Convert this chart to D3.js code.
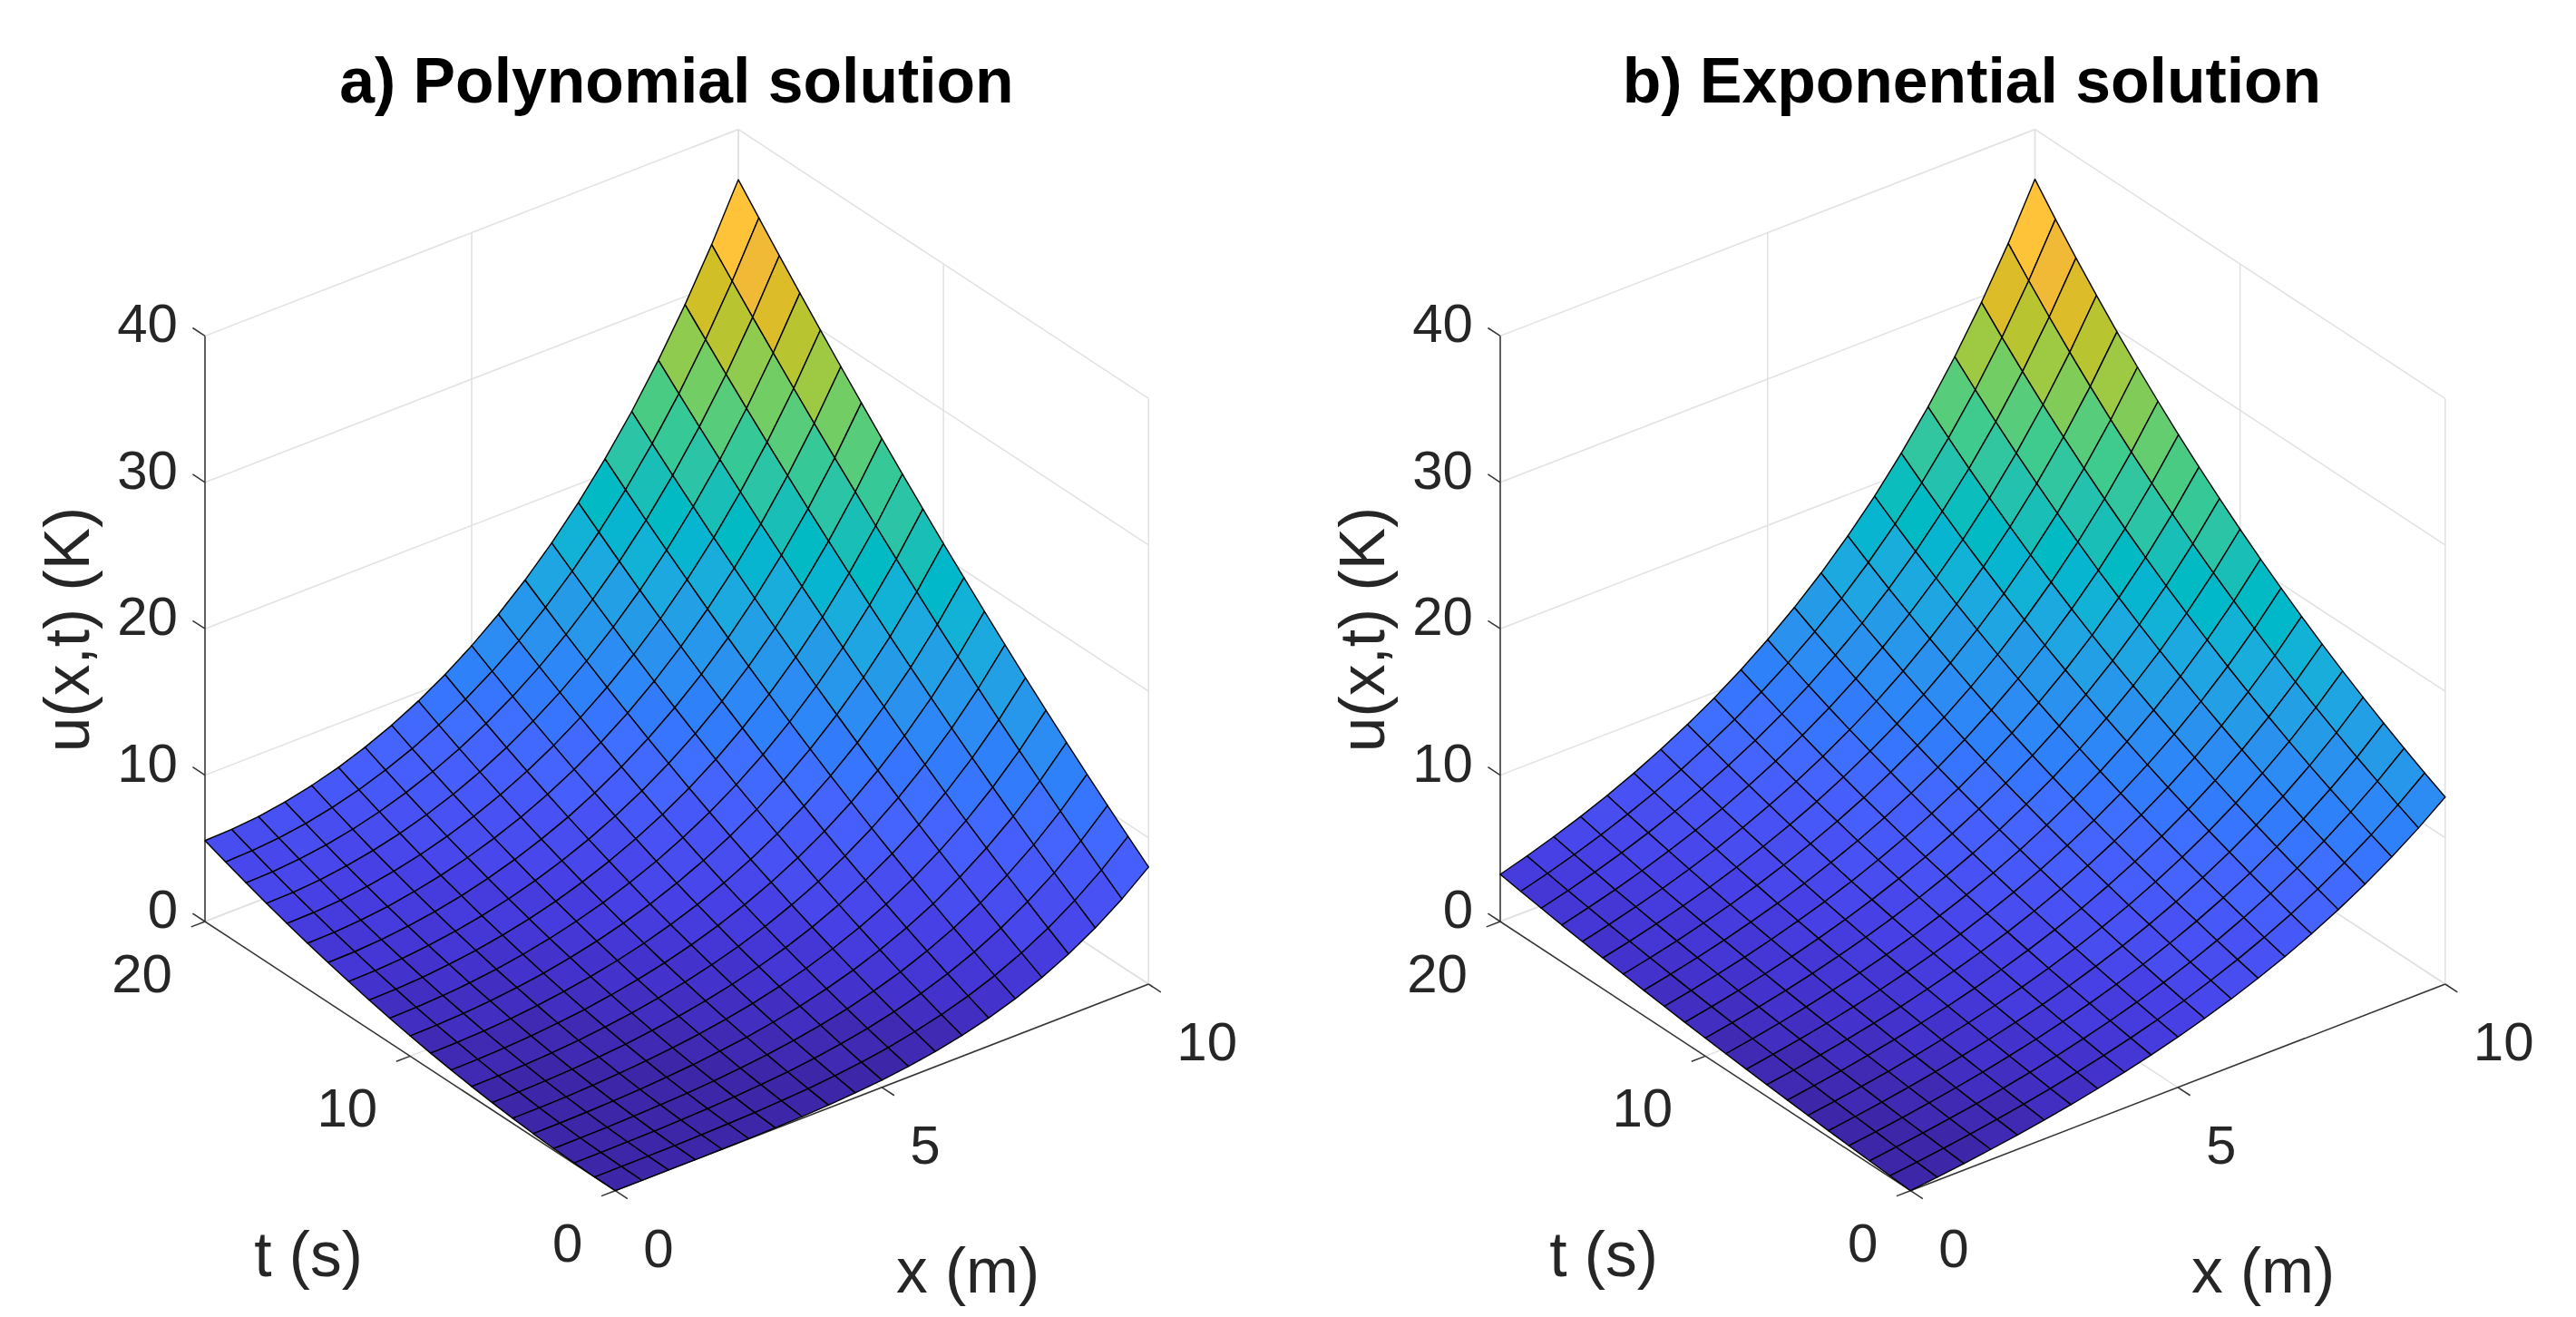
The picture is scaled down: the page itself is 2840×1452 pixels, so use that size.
<!DOCTYPE html>
<html>
<head>
<meta charset="utf-8">
<script src="https://cdn.jsdelivr.net/npm/d3@7"></script>
<style>
  body { margin: 0; background: #fff; }
  text { font-family: "Liberation Sans", sans-serif; }
</style>
</head>
<body>
<div id="chart"></div>
<script>
// grid positions of the surfaces
const xValues = [0, 0.5, 1, 1.5, 2, 2.5, 3, 3.5, 4, 4.5, 5, 5.5, 6, 6.5, 7, 7.5, 8, 8.5, 9, 9.5, 10];
const tValues = [0, 1, 2, 3, 4, 5, 6, 7, 8, 9, 10, 11, 12, 13, 14, 15, 16, 17, 18, 19, 20];

// tick labels
const xTicks = [0, 5, 10];
const tTicks = [0, 10, 20];
const uTicks = [0, 10, 20, 30, 40];

// u(x,t), one row per t, one column per x
const polynomialU = [
  [0, 0, 0, 0, 0.01, 0.03, 0.06, 0.12, 0.20, 0.33, 0.50, 0.73, 1.04, 1.43, 1.92, 2.53, 3.28, 4.18, 5.25, 6.52, 8.00],
  [0.01, 0.02, 0.03, 0.04, 0.07, 0.12, 0.18, 0.28, 0.40, 0.58, 0.80, 1.09, 1.47, 1.93, 2.50, 3.19, 4.03, 5.02, 6.20, 7.57, 9.17],
  [0.06, 0.06, 0.08, 0.11, 0.16, 0.23, 0.33, 0.46, 0.63, 0.85, 1.13, 1.48, 1.92, 2.46, 3.11, 3.88, 4.81, 5.90, 7.17, 8.65, 10.36],
  [0.12, 0.13, 0.16, 0.21, 0.28, 0.37, 0.50, 0.67, 0.88, 1.15, 1.49, 1.90, 2.41, 3.01, 3.74, 4.60, 5.61, 6.80, 8.17, 9.76, 11.58],
  [0.22, 0.23, 0.27, 0.33, 0.42, 0.54, 0.70, 0.91, 1.16, 1.48, 1.87, 2.35, 2.92, 3.60, 4.40, 5.34, 6.45, 7.73, 9.20, 10.90, 12.83],
  [0.35, 0.36, 0.40, 0.48, 0.59, 0.74, 0.93, 1.17, 1.47, 1.84, 2.29, 2.82, 3.46, 4.21, 5.09, 6.12, 7.31, 8.68, 10.26, 12.06, 14.11],
  [0.50, 0.52, 0.57, 0.66, 0.79, 0.96, 1.19, 1.46, 1.81, 2.23, 2.73, 3.32, 4.02, 4.85, 5.81, 6.92, 8.20, 9.67, 11.35, 13.25, 15.41],
  [0.68, 0.70, 0.76, 0.86, 1.01, 1.21, 1.47, 1.78, 2.17, 2.64, 3.19, 3.85, 4.62, 5.51, 6.55, 7.74, 9.12, 10.68, 12.46, 14.47, 16.74],
  [0.89, 0.91, 0.98, 1.10, 1.27, 1.49, 1.78, 2.13, 2.56, 3.08, 3.69, 4.41, 5.24, 6.21, 7.32, 8.60, 10.06, 11.72, 13.60, 15.72, 18.10],
  [1.12, 1.15, 1.22, 1.36, 1.55, 1.80, 2.12, 2.51, 2.98, 3.55, 4.21, 4.99, 5.89, 6.93, 8.12, 9.48, 11.03, 12.79, 14.77, 16.99, 19.49],
  [1.38, 1.41, 1.50, 1.65, 1.86, 2.13, 2.49, 2.91, 3.43, 4.04, 4.76, 5.60, 6.57, 7.68, 8.95, 10.39, 12.03, 13.88, 15.96, 18.30, 20.90],
  [1.67, 1.70, 1.80, 1.96, 2.19, 2.50, 2.88, 3.35, 3.91, 4.57, 5.34, 6.24, 7.27, 8.45, 9.80, 11.33, 13.06, 15.00, 17.19, 19.63, 22.35],
  [1.99, 2.03, 2.13, 2.31, 2.56, 2.89, 3.30, 3.80, 4.41, 5.12, 5.95, 6.91, 8.00, 9.26, 10.69, 12.30, 14.12, 16.15, 18.44, 20.98, 23.82],
  [2.34, 2.37, 2.49, 2.68, 2.95, 3.30, 3.75, 4.29, 4.94, 5.70, 6.58, 7.60, 8.77, 10.09, 11.60, 13.29, 15.20, 17.33, 19.72, 22.37, 25.31],
  [2.71, 2.75, 2.87, 3.08, 3.37, 3.75, 4.23, 4.81, 5.50, 6.30, 7.24, 8.32, 9.55, 10.95, 12.53, 14.31, 16.31, 18.54, 21.02, 23.78, 26.84],
  [3.11, 3.15, 3.28, 3.50, 3.82, 4.22, 4.73, 5.35, 6.08, 6.94, 7.93, 9.07, 10.37, 11.84, 13.50, 15.36, 17.45, 19.77, 22.36, 25.22, 28.39],
  [3.54, 3.59, 3.72, 3.96, 4.29, 4.72, 5.26, 5.92, 6.69, 7.60, 8.65, 9.85, 11.21, 12.75, 14.49, 16.44, 18.61, 21.03, 23.72, 26.69, 29.97],
  [4.00, 4.04, 4.19, 4.44, 4.79, 5.25, 5.82, 6.51, 7.33, 8.29, 9.39, 10.65, 12.08, 13.70, 15.51, 17.54, 19.81, 22.32, 25.11, 28.19, 31.58],
  [4.48, 4.53, 4.69, 4.95, 5.32, 5.81, 6.41, 7.14, 8.00, 9.01, 10.16, 11.48, 12.98, 14.67, 16.56, 18.67, 21.03, 23.64, 26.52, 29.71, 33.22],
  [4.99, 5.05, 5.21, 5.49, 5.88, 6.39, 7.03, 7.79, 8.70, 9.75, 10.96, 12.34, 13.91, 15.67, 17.64, 19.83, 22.28, 24.98, 27.97, 31.26, 34.88],
  [5.53, 5.59, 5.76, 6.05, 6.47, 7.00, 7.67, 8.47, 9.42, 10.52, 11.79, 13.23, 14.86, 16.69, 18.74, 21.02, 23.55, 26.35, 29.44, 32.84, 36.57]
];

const exponentialU = [
  [0, 0.21, 0.44, 0.70, 0.98, 1.30, 1.64, 2.03, 2.45, 2.92, 3.44, 4.01, 4.64, 5.34, 6.11, 6.96, 7.91, 8.95, 10.10, 11.37, 12.78],
  [0.10, 0.32, 0.56, 0.83, 1.13, 1.46, 1.82, 2.23, 2.67, 3.16, 3.70, 4.30, 4.97, 5.70, 6.51, 7.40, 8.39, 9.49, 10.69, 12.03, 13.50],
  [0.20, 0.43, 0.69, 0.97, 1.28, 1.63, 2.01, 2.43, 2.90, 3.41, 3.98, 4.61, 5.31, 6.08, 6.93, 7.87, 8.90, 10.05, 11.32, 12.72, 14.27],
  [0.31, 0.55, 0.82, 1.12, 1.45, 1.81, 2.21, 2.65, 3.14, 3.68, 4.28, 4.94, 5.67, 6.48, 7.37, 8.35, 9.44, 10.64, 11.97, 13.44, 15.07],
  [0.42, 0.68, 0.96, 1.27, 1.62, 2.00, 2.42, 2.88, 3.39, 3.96, 4.59, 5.28, 6.05, 6.89, 7.83, 8.86, 10.00, 11.27, 12.66, 14.20, 15.91],
  [0.54, 0.81, 1.11, 1.43, 1.79, 2.19, 2.63, 3.12, 3.66, 4.25, 4.91, 5.64, 6.44, 7.33, 8.31, 9.39, 10.59, 11.92, 13.38, 15.00, 16.79],
  [0.67, 0.95, 1.26, 1.60, 1.98, 2.40, 2.86, 3.37, 3.94, 4.56, 5.25, 6.01, 6.86, 7.79, 8.82, 9.95, 11.21, 12.60, 14.14, 15.83, 17.71],
  [0.80, 1.09, 1.42, 1.78, 2.18, 2.61, 3.10, 3.64, 4.23, 4.88, 5.61, 6.41, 7.29, 8.27, 9.35, 10.54, 11.86, 13.32, 14.93, 16.71, 18.68],
  [0.94, 1.25, 1.59, 1.96, 2.38, 2.84, 3.35, 3.91, 4.53, 5.22, 5.98, 6.82, 7.75, 8.77, 9.91, 11.16, 12.54, 14.07, 15.76, 17.63, 19.70],
  [1.08, 1.40, 1.76, 2.16, 2.60, 3.08, 3.61, 4.20, 4.86, 5.58, 6.37, 7.25, 8.23, 9.30, 10.49, 11.81, 13.26, 14.86, 16.64, 18.60, 20.76],
  [1.23, 1.57, 1.95, 2.36, 2.82, 3.33, 3.89, 4.51, 5.19, 5.95, 6.79, 7.71, 8.73, 9.86, 11.11, 12.49, 14.01, 15.69, 17.55, 19.61, 21.88],
  [1.39, 1.75, 2.14, 2.58, 3.06, 3.59, 4.18, 4.83, 5.55, 6.34, 7.22, 8.19, 9.26, 10.44, 11.75, 13.20, 14.80, 16.56, 18.51, 20.67, 23.06],
  [1.56, 1.93, 2.35, 2.80, 3.31, 3.87, 4.48, 5.16, 5.92, 6.75, 7.67, 8.69, 9.81, 11.05, 12.43, 13.95, 15.62, 17.48, 19.52, 21.79, 24.29],
  [1.73, 2.13, 2.56, 3.04, 3.57, 4.15, 4.80, 5.52, 6.31, 7.18, 8.15, 9.21, 10.39, 11.70, 13.14, 14.73, 16.49, 18.43, 20.58, 22.96, 25.58],
  [1.92, 2.33, 2.78, 3.29, 3.84, 4.46, 5.14, 5.89, 6.72, 7.63, 8.65, 9.77, 11.00, 12.37, 13.88, 15.55, 17.40, 19.44, 21.69, 24.18, 26.94],
  [2.11, 2.54, 3.02, 3.55, 4.13, 4.77, 5.49, 6.27, 7.14, 8.11, 9.17, 10.34, 11.64, 13.08, 14.66, 16.41, 18.35, 20.49, 22.86, 25.47, 28.36],
  [2.31, 2.76, 3.27, 3.82, 4.43, 5.11, 5.86, 6.68, 7.59, 8.60, 9.72, 10.95, 12.31, 13.82, 15.48, 17.32, 19.35, 21.60, 24.08, 26.82, 29.85],
  [2.52, 3.00, 3.52, 4.11, 4.75, 5.46, 6.24, 7.11, 8.07, 9.12, 10.29, 11.59, 13.02, 14.60, 16.34, 18.27, 20.40, 22.76, 25.36, 28.24, 31.42],
  [2.75, 3.24, 3.80, 4.41, 5.08, 5.82, 6.65, 7.56, 8.56, 9.67, 10.90, 12.26, 13.75, 15.41, 17.24, 19.27, 21.50, 23.98, 26.71, 29.73, 33.06],
  [2.98, 3.50, 4.08, 4.72, 5.43, 6.21, 7.07, 8.03, 9.08, 10.25, 11.53, 12.96, 14.53, 16.27, 18.19, 20.31, 22.66, 25.25, 28.12, 31.29, 34.79],
  [3.22, 3.77, 4.38, 5.05, 5.79, 6.61, 7.52, 8.52, 9.62, 10.85, 12.20, 13.69, 15.34, 17.17, 19.18, 21.41, 23.87, 26.59, 29.60, 32.92, 36.60]
];

// parula colormap, 64 steps
const parula = [
  [.2422,.1504,.6603],[.2504,.1650,.7076],[.2578,.1818,.7511],[.2647,.1978,.7952],[.2706,.2147,.8364],[.2751,.2342,.8710],[.2783,.2559,.8991],[.2803,.2782,.9221],
  [.2813,.3006,.9414],[.2810,.3228,.9579],[.2795,.3447,.9717],[.2760,.3667,.9829],[.2699,.3892,.9906],[.2602,.4123,.9952],[.2440,.4358,.9988],[.2206,.4603,.9973],
  [.1963,.4847,.9892],[.1834,.5074,.9798],[.1786,.5289,.9682],[.1764,.5499,.9520],[.1687,.5703,.9359],[.1540,.5902,.9218],[.1460,.6091,.9079],[.1380,.6276,.8973],
  [.1248,.6459,.8883],[.1113,.6635,.8763],[.0952,.6798,.8598],[.0689,.6948,.8394],[.0297,.7082,.8163],[.0036,.7203,.7917],[.0067,.7312,.7660],[.0433,.7411,.7394],
  [.0964,.7500,.7120],[.1408,.7584,.6842],[.1717,.7670,.6554],[.1938,.7758,.6251],[.2161,.7843,.5923],[.2470,.7918,.5567],[.2906,.7973,.5188],[.3406,.8008,.4789],
  [.3909,.8029,.4354],[.4456,.8024,.3909],[.5044,.7993,.3480],[.5616,.7942,.3045],[.6174,.7876,.2612],[.6720,.7793,.2227],[.7242,.7698,.1910],[.7738,.7598,.1646],
  [.8203,.7498,.1535],[.8634,.7406,.1596],[.9035,.7330,.1774],[.9393,.7288,.2100],[.9728,.7298,.2394],[.9956,.7434,.2371],[.9970,.7659,.2199],[.9952,.7893,.2028],
  [.9892,.8136,.1885],[.9786,.8386,.1766],[.9676,.8639,.1643],[.9610,.8890,.1537],[.9597,.9135,.1423],[.9628,.9373,.1265],[.9691,.9606,.1064],[.9769,.9839,.0805]
].map(c => d3.rgb(c[0] * 255, c[1] * 255, c[2] * 255).formatRgb());

const svg = d3.select("#chart").append("svg")
  .attr("width", 2840)
  .attr("height", 1452);

//the two floor axes are oblique: each data unit moves the point in both directions
const xToScreenY = d3.scaleLinear().domain([0, 10]).range([0, -227.7]);
const tToScreenX = d3.scaleLinear().domain([0, 20]).range([0, -452.3]);
const tToScreenY = d3.scaleLinear().domain([0, 20]).range([0, -296.7]);
const uToScreenY = d3.scaleLinear().domain([0, 40]).range([0, -645.6]);

const xMax = 10, tMax = 20, uMax = 40;
const frontX = 678.3, frontY = 1312.7;

const drawPanel = (offsetX, xWidth, title, values) => {
  const g = svg.append("g").attr("transform", `translate(${offsetX},0)`);
  const line = d3.line();

  //the right panel is a touch wider than the left one
  const xToScreenX = d3.scaleLinear().domain([0, 10]).range([0, xWidth]);
  const project = (x, t, u) => [
    frontX + xToScreenX(x) + tToScreenX(t),
    frontY + xToScreenY(x) + tToScreenY(t) + uToScreenY(u)
  ];

  //walls and floor grid
  const gridLines = [];
  uTicks.forEach(u => {
    gridLines.push([project(0, tMax, u), project(xMax, tMax, u), project(xMax, 0, u)]);
  });
  xTicks.forEach(x => {
    gridLines.push([project(x, 0, 0), project(x, tMax, 0), project(x, tMax, uMax)]);
  });
  tTicks.forEach(t => {
    gridLines.push([project(0, t, 0), project(xMax, t, 0), project(xMax, t, uMax)]);
  });
  g.append("g").selectAll("path").data(gridLines).join("path")
    .attr("d", d => line(d))
    .attr("fill", "none")
    .attr("stroke", "#e1e1e1")
    .attr("stroke-width", 1.5);

  //axis lines
  const axisLines = [
    [project(0, tMax, 0), project(0, tMax, uMax)],
    [project(0, tMax, 0), project(0, 0, 0)],
    [project(0, 0, 0), project(xMax, 0, 0)]
  ];
  g.append("g").selectAll("path").data(axisLines).join("path")
    .attr("d", d => line(d))
    .attr("fill", "none")
    .attr("stroke", "#333333")
    .attr("stroke-width", 1.5);

  //tick marks, drawn along the direction of the other floor axis
  const tickT = 0.03 * tMax, tickX = 0.026 * xMax;
  const tickLines = [
    ...uTicks.map(u => [project(0, tMax, u), project(0, tMax + tickT, u)]),
    ...xTicks.map(x => [project(x, 0, 0), project(x, -tickT, 0)]),
    ...tTicks.map(t => [project(0, t, 0), project(-tickX, t, 0)])
  ];
  g.append("g").selectAll("path").data(tickLines).join("path")
    .attr("d", d => line(d))
    .attr("fill", "none")
    .attr("stroke", "#333333")
    .attr("stroke-width", 1.5);

  //surface: far cells first so the near ones paint over them
  const color = d3.scaleQuantize().domain([0, d3.max(values.flat())]).range(parula);
  const cells = [];
  for (let j = tValues.length - 2; j >= 0; j--) {
    for (let i = xValues.length - 2; i >= 0; i--) {
      cells.push({i, j});
    }
  }
  g.append("g").selectAll("path").data(cells).join("path")
    .attr("d", ({i, j}) => line([
      project(xValues[i], tValues[j], values[j][i]),
      project(xValues[i + 1], tValues[j], values[j][i + 1]),
      project(xValues[i + 1], tValues[j + 1], values[j + 1][i + 1]),
      project(xValues[i], tValues[j + 1], values[j + 1][i])
    ]) + "Z")
    .attr("fill", ({i, j}) => color(values[j][i]))
    .attr("stroke", "#000")
    .attr("stroke-width", 1.4)
    .attr("stroke-linejoin", "round");

  //tick labels
  const drawText = (text, p, dx, dy, anchor) => {
    g.append("text")
      .attr("x", p[0] + dx)
      .attr("y", p[1] + dy)
      .attr("text-anchor", anchor)
      .attr("font-size", 60)
      .attr("fill", "#262626")
      .text(text);
  };
  uTicks.forEach(u => drawText(u, project(0, tMax, u), -30, 7, "end"));
  tTicks.forEach(t => drawText(t, project(0, t, 0), -36, 78, "end"));
  xTicks.forEach(x => drawText(x, project(x, 0, 0), 31, 84, "start"));

  //axis labels
  const drawLabel = (text, x, y, rotate) => {
    g.append("text")
      .attr("transform", `translate(${x},${y}) rotate(${rotate})`)
      .attr("text-anchor", "middle")
      .attr("font-size", 69.5)
      .attr("fill", "#262626")
      .text(text);
  };
  drawLabel("t (s)", 340, 1407, 0);
  drawLabel("x (m)", 1067, 1425, 0);
  drawLabel("u(x,t) (K)", 98, 694, -90);

  g.append("text")
    .attr("x", 746)
    .attr("y", 113)
    .attr("text-anchor", "middle")
    .attr("font-size", 69.7)
    .attr("font-weight", "bold")
    .attr("fill", "#000")
    .text(title);
};

drawPanel(0, 588, "a) Polynomial solution", polynomialU);
drawPanel(1428, 589.5, "b) Exponential solution", exponentialU);
</script>
</body>
</html>
